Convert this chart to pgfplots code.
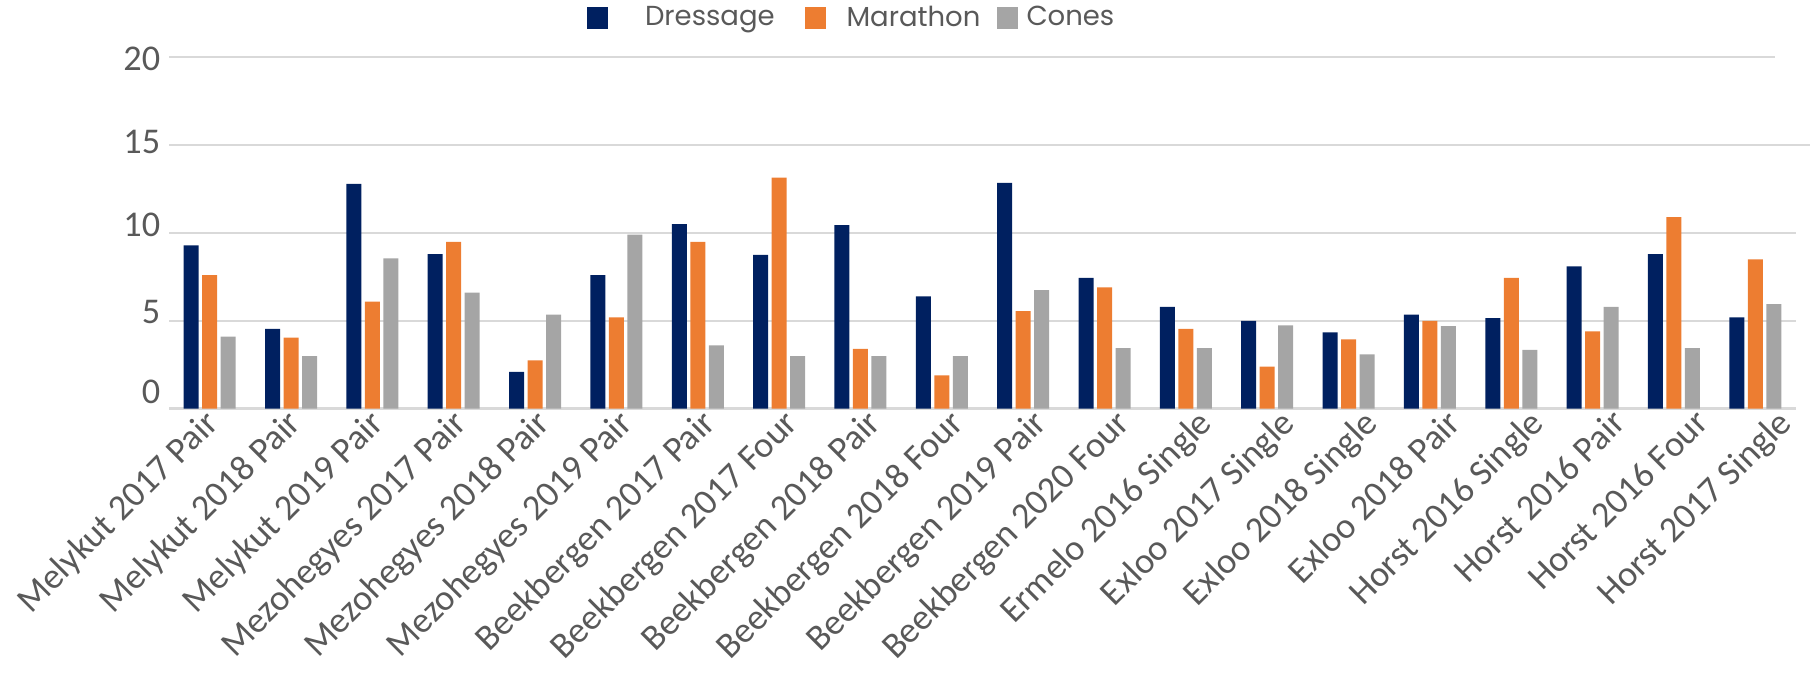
\documentclass[border=0pt]{standalone}
\usepackage{fontspec}
\setmainfont{Carlito}
\newfontfamily\legendfont{Poppins}
\usepackage{pgfplots}
\usepackage{pgfplotstable}
\pgfplotsset{compat=1.18}

\definecolor{dres}{HTML}{002060}
\definecolor{mara}{HTML}{ED7D31}
\definecolor{cone}{HTML}{A5A5A5}
\definecolor{txt}{HTML}{595959}
\definecolor{gridc}{HTML}{D9D9D9}

% scores per competition
\pgfplotstableread{
x  dres  mara  cone
0  9.3   7.6   4.1
1  4.55  4.05  3.0
2  12.8  6.1   8.55
3  8.8   9.5   6.6
4  2.1   2.75  5.35
5  7.6   5.2   9.9
6  10.5  9.5   3.6
7  8.75  13.15 3.0
8  10.45 3.4   3.0
9  6.4   1.9   3.0
10 12.85 5.55  6.75
11 7.45  6.9   3.45
12 5.8   4.55  3.45
13 5.0   2.4   4.75
14 4.35  3.95  3.1
15 5.35  5.0   4.7
16 5.15  7.45  3.35
17 8.1   4.4   5.8
18 8.8   10.9  3.45
19 5.2   8.5   5.95
}\scores

\begin{document}
\begin{tikzpicture}
\begin{axis}[
  at={(67.6pt,105.7pt)}, anchor=south west,
  scale only axis, width=650.8pt, height=140.6pt,
  ybar=1.4pt, bar width=6pt,
  xmin=-0.5, xmax=19.5, ymin=0, ymax=20,
  axis x line*=bottom, axis y line*=left,
  x axis line style={draw=gridc, line width=1pt, -},
  y axis line style={draw=none},
  ymajorgrids, xmajorgrids=false,
  grid style={draw=gridc, line width=0.75pt, shorten >=-5.6pt},
  major tick length=0pt,
  % labels sit on a slightly wider spacing than the bars
  xtick={0,1.018,2.036,3.054,4.072,5.09,6.108,7.126,8.144,9.162,10.18,
    11.198,12.216,13.234,14.252,15.27,16.288,17.306,18.324,19.342},
  xticklabels={Melykut 2017 Pair, Melykut 2018 Pair, Melykut 2019 Pair,
    Mezohegyes 2017 Pair, Mezohegyes 2018 Pair, Mezohegyes 2019 Pair,
    Beekbergen 2017 Pair, Beekbergen 2017 Four, Beekbergen 2018 Pair,
    Beekbergen 2018 Four, Beekbergen 2019 Pair, Beekbergen 2020 Four,
    Ermelo 2016 Single, Exloo 2017 Single, Exloo 2018 Single,
    Exloo 2018 Pair, Horst 2016 Single, Horst 2016 Pair,
    Horst 2016 Four, Horst 2017 Single},
  xticklabel style={yshift=0.8pt, xshift=-3pt, rotate=45, anchor=north east,
    inner sep=0pt, font=\fontsize{14.5}{17}\selectfont, text=txt},
  ytick={5,10,15},
  yticklabels={\raisebox{8.8pt}{5}, \raisebox{7.8pt}{10}, \raisebox{3.8pt}{15}},
  extra y ticks={0,20},
  extra y tick labels={\raisebox{14.6pt}{0}, 20},
  extra y tick style={grid style={draw=gridc, line width=0.75pt, shorten >=8.4pt}},
  yticklabel style={yshift=-0.7pt, font=\fontsize{14.5}{17}\selectfont, text=txt},
  legend columns=3,
  legend style={at={(0.2563,1.1117)}, anchor=west, draw=none, fill=none,
    inner sep=0pt, column sep=0pt,
    nodes={inner sep=0pt, text=txt, font=\legendfont\fontsize{11}{13}\selectfont}},
  legend cell align=left,
  legend image code/.code={\fill[#1] (0pt,-4.4pt) rectangle (8.4pt,4.4pt);},
]
\addplot[fill=dres, draw=none] table[x=x, y=dres] {\scores};
\addplot[fill=mara, draw=none] table[x=x, y=mara] {\scores};
\addplot[fill=cone, draw=none] table[x=x, y=cone] {\scores};
\legend{\makebox[78.8pt][l]{\hspace{15pt}Dressage},
  \makebox[68.4pt][l]{\hspace{8.4pt}Marathon},
  \makebox[40pt][l]{\hspace{3.6pt}Cones}}
\end{axis}
\pgfresetboundingbox
\path (0,0) rectangle (725.6pt,269.2pt);
\end{tikzpicture}
\end{document}
